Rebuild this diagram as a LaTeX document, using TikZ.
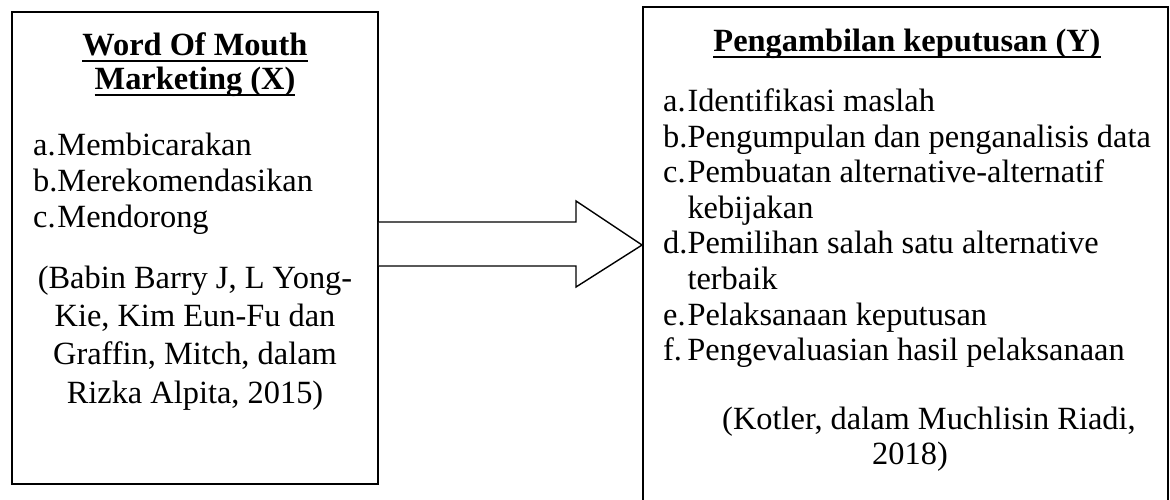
\documentclass[tikz,border=0pt]{standalone}
\usepackage{fontspec}
\setmainfont{Liberation Serif}
\newcommand{\myul}[1]{\leavevmode\setbox0=\hbox{#1}\rlap{\rule[-6.5pt]{\wd0}{2.6pt}}\box0}
\newcommand{\lbl}[1]{\makebox[0.75em][l]{#1}}
\begin{document}
\begin{tikzpicture}[x=1pt,y=-1pt,
  txt/.style={inner sep=0pt,font=\fontsize{32.4}{36}\selectfont},
  itemtxt/.style={txt,anchor=base west},
  ctrtxt/.style={txt,anchor=base},
  ttl/.style={txt,anchor=base,font=\fontsize{32.4}{36}\selectfont\bfseries},
  boxline/.style={draw=black,line width=1.8pt,inner sep=0pt},
  arrowline/.style={draw=black,line width=1.4pt,line join=miter,fill=white}]
\useasboundingbox (0,0) rectangle (1170,500);
% boxes
\node[boxline,minimum width=366pt,minimum height=472pt] (L) at (195,248) {};
\node[boxline,minimum width=525pt,minimum height=496pt] (R) at (905.5,255) {};
% block arrow from L to R
\coordinate (tip) at (R.west |- 0,245);
\draw[arrowline] (L.east |- 0,222) -- (576,222) -- (576,201) -- (tip) -- (576,287) -- (576,266) -- (L.east |- 0,266);
% left texts
\node[ttl] (lt1) at (195,56) {\myul{Word Of Mouth}};
\node[ttl] (lt2) at (195,90) {\myul{Marketing (X)}};
\node[itemtxt] (la) at (33,156) {\lbl{a.}Membicarakan};
\node[itemtxt] (lb) at (33,191.5) {\lbl{b.}Merekomendasikan};
\node[itemtxt] (lc) at (33,227) {\lbl{c.}Mendorong};
\node[ctrtxt] (lr1) at (195,288) {(Babin Barry J, L Yong-};
\node[ctrtxt] (lr2) at (195,326) {Kie, Kim Eun-Fu dan};
\node[ctrtxt] (lr3) at (195,364) {Graffin, Mitch, dalam};
\node[ctrtxt] (lr4) at (195,403) {Rizka Alpita, 2015)};
% right texts
\node[ttl] (rt) at (907,52) {\myul{Pengambilan keputusan (Y)}};
\node[itemtxt] (ra) at (663,111.5) {\lbl{a.}Identifikasi maslah};
\node[itemtxt] (rb) at (663,147.1) {\lbl{b.}Pengumpulan dan penganalisis data};
\node[itemtxt] (rc) at (663,182.7) {\lbl{c.}Pembuatan alternative-alternatif};
\node[itemtxt] (rc2) at (663,218.3) {\lbl{}kebijakan};
\node[itemtxt] (rd) at (663,253.9) {\lbl{d.}Pemilihan salah satu alternative};
\node[itemtxt] (rd2) at (663,289.5) {\lbl{}terbaik};
\node[itemtxt] (re) at (663,325.1) {\lbl{e.}Pelaksanaan keputusan};
\node[itemtxt] (rf) at (663,360.7) {\lbl{f.}Pengevaluasian hasil pelaksanaan};
\node[ctrtxt] (rr1) at (929,429) {(Kotler, dalam Muchlisin Riadi,};
\node[ctrtxt] (rr2) at (910,464) {2018)};
\end{tikzpicture}
\end{document}
